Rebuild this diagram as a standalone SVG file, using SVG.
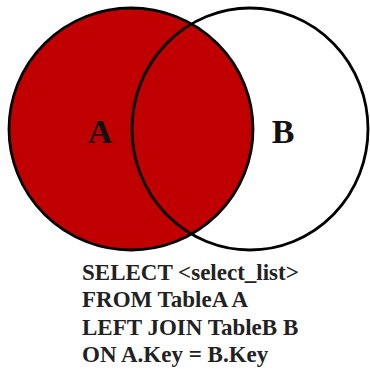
<svg xmlns="http://www.w3.org/2000/svg" width="370" height="369" viewBox="0 0 370 369">
<style>
.c{stroke:#000;stroke-width:2.8}
.lbl{font-family:"Liberation Serif",serif;font-weight:bold;font-size:34px;fill:#111}
.sql{font-family:"Liberation Serif",serif;font-weight:bold;font-size:23px;fill:#222}
</style>
<rect width="370" height="369" fill="#fff"/>
<g id="circleA"><ellipse class="c" cx="131" cy="129" rx="122" ry="121" fill="#C00000"/></g>
<g id="circleB"><ellipse class="c" cx="250" cy="129" rx="118" ry="121" fill="none"/></g>
<g id="connectors"></g>
<text class="lbl" x="100" y="143" text-anchor="middle">A</text>
<text class="lbl" x="283" y="143" text-anchor="middle">B</text>
<g id="query">
<text class="sql" x="82" y="280">SELECT &lt;select_list&gt;</text>
<text class="sql" x="82" y="307">FROM TableA A</text>
<text class="sql" x="82" y="335">LEFT JOIN TableB B</text>
<text class="sql" x="82" y="362">ON A.Key = B.Key</text>
</g>
</svg>
